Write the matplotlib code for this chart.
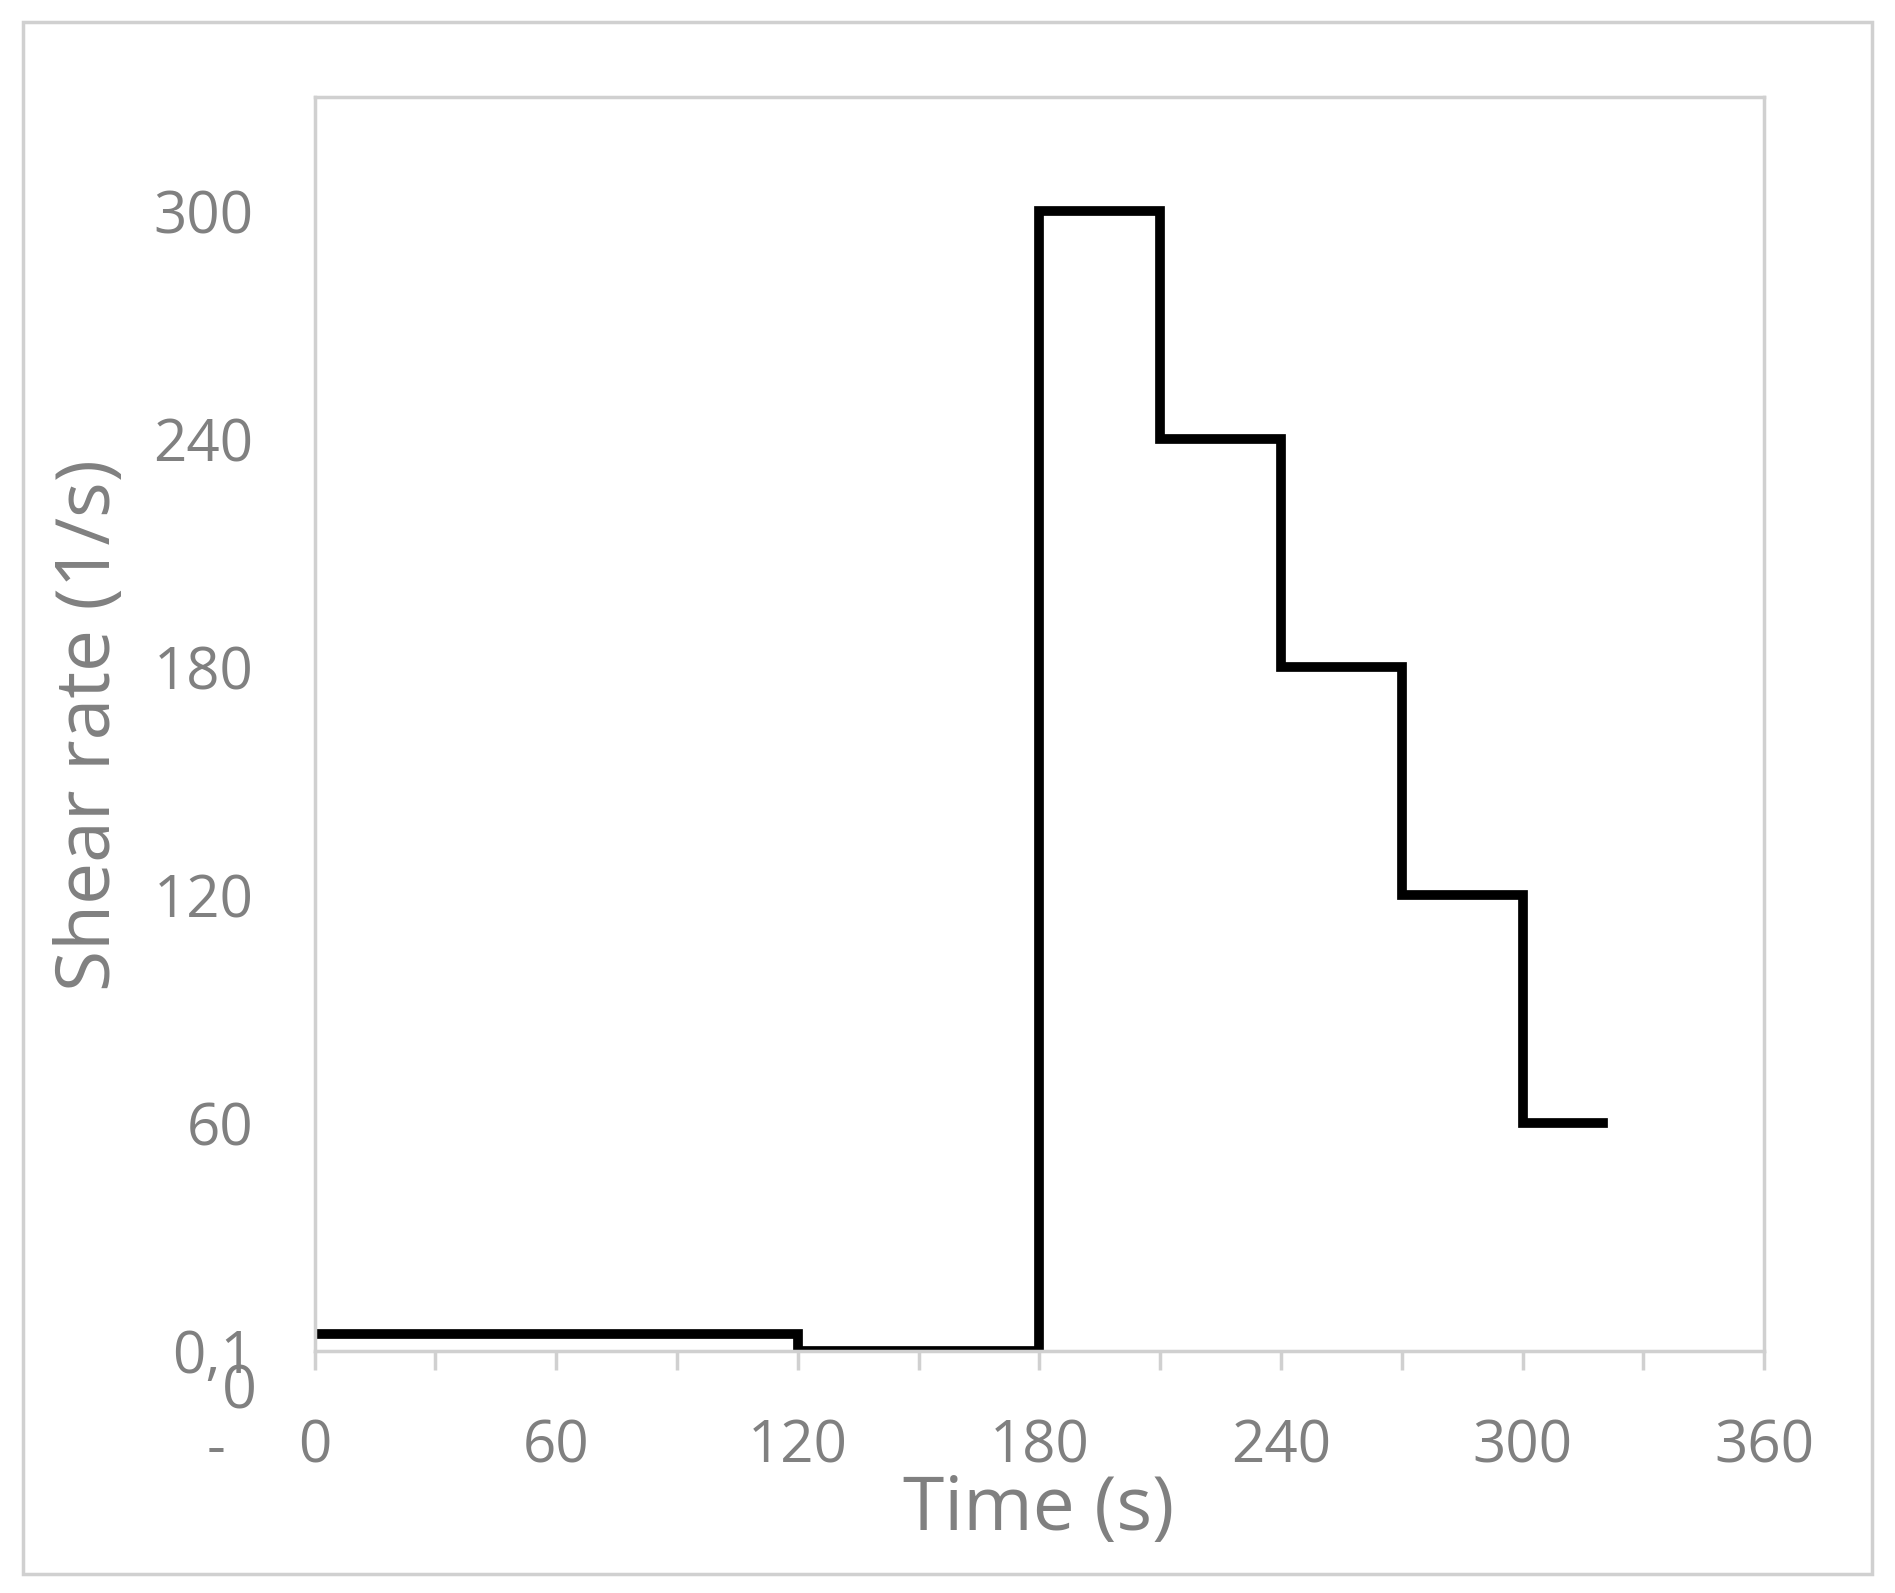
import matplotlib.pyplot as plt
from matplotlib.patches import Rectangle

# step profile: (start time, shear rate) held until the next start
step_times = [0, 120, 180, 210, 240, 270, 300, 320]
step_rates = [4.5, 0, 300, 240, 180, 120, 60, 60]

x_ticks = [0, 60, 120, 180, 240, 300, 360]
y_ticks = [0, 60, 120, 180, 240, 300]
y_labels = ['0,1', '60', '120', '180', '240', '300']

GREY = '#808080'
SPINE = '#d0d0d0'
plt.rcParams['font.family'] = ['Open Sans', 'DejaVu Sans']

fig = plt.figure(figsize=(18.95, 15.93), dpi=100)
fig.patches.append(Rectangle((0.012, 0.012), 0.976, 0.974, transform=fig.transFigure,
                             fill=False, edgecolor=SPINE, linewidth=2.5))
ax = fig.add_axes([0.166, 0.152, 0.765, 0.787])

ax.step(step_times, step_rates, where='post', color='black', linewidth=7,
        solid_joinstyle='miter')

ax.set_xlim(0, 360)
ax.set_ylim(0, 330)
ax.set_xticks(x_ticks)
ax.set_xticks(range(0, 361, 30), minor=True)
ax.set_yticks(y_ticks)
ax.set_yticklabels(y_labels)
ax.tick_params(axis='x', which='both', direction='out', length=14, width=2.5,
               color=SPINE, labelsize=42, labelcolor=GREY, pad=34)
ax.tick_params(axis='y', length=0, labelsize=42, labelcolor=GREY, pad=44)
for s in ax.spines.values():
    s.set_color(SPINE)
    s.set_linewidth(2.5)

# odd leftover labels from the original export
ax.text(-0.052, -0.033, '0', transform=ax.transAxes, fontsize=44, color=GREY,
        ha='center', va='center')
ax.text(-0.068, -0.08, '-', transform=ax.transAxes, fontsize=42, color=GREY,
        ha='center', va='center')

fig.text(0.548, 0.052, 'Time (s)', fontsize=54, color=GREY, ha='center', va='center')
fig.text(0.048, 0.545, 'Shear rate (1/s)', fontsize=54, color=GREY, ha='center',
         va='center', rotation=90)

fig.savefig('out.png', dpi=100)
